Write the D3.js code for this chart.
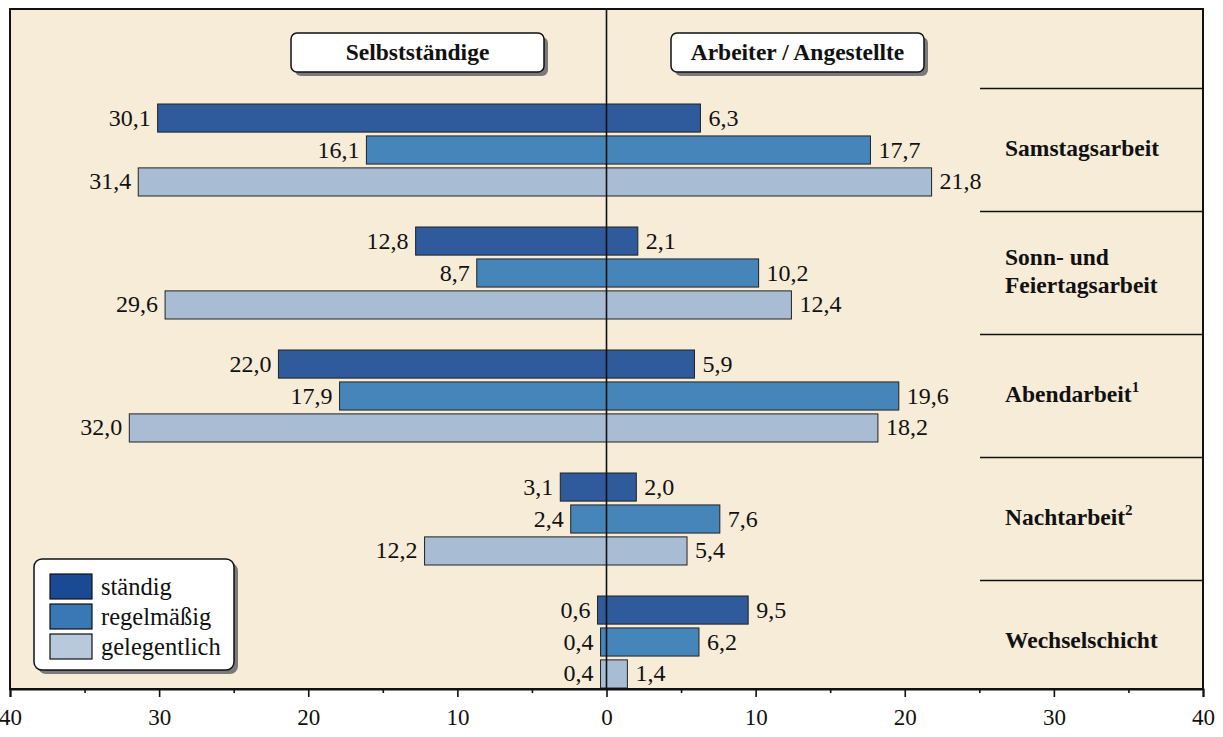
<!DOCTYPE html>
<html><head><meta charset="utf-8">
<script src="https://cdn.jsdelivr.net/npm/d3@7"></script>
<style>body{margin:0;background:#fff}svg{display:block}</style>
</head><body><svg id="c" width="1223" height="737"></svg>
<script>
const categories = ["Samstagsarbeit", "Sonn- und Feiertagsarbeit", "Abendarbeit", "Nachtarbeit", "Wechselschicht"];
const catLines = [["Samstagsarbeit"], ["Sonn- und", "Feiertagsarbeit"], ["Abendarbeit"], ["Nachtarbeit"], ["Wechselschicht"]];
const catSup = ["", "", "1", "2", ""];
const seriesNames = ["ständig", "regelmäßig", "gelegentlich"];
const selbst = [[30.1, 16.1, 31.4], [12.8, 8.7, 29.6], [22.0, 17.9, 32.0], [3.1, 2.4, 12.2], [0.6, 0.4, 0.4]];
const arbeiter = [[6.3, 17.7, 21.8], [2.1, 10.2, 12.4], [5.9, 19.6, 18.2], [2.0, 7.6, 5.4], [9.5, 6.2, 1.4]];
const majorTicks = [-40, -30, -20, -10, 0, 10, 20, 30, 40];
const minorTicks = [-35, -25, -15, -5, 5, 15, 25, 35];
const barColors = ["#2f5a9c", "#4585ba", "#a8bdd4"];
const legendColors = ["#1b4a94", "#3a78b5", "#b9c9dc"];

const FONT = "'Liberation Serif', 'Times New Roman', Times, serif";
const svg = d3.select("#c");
const L = 10, R = 1203, T = 9, B = 689;
const x = d3.scaleLinear().domain([-40, 40]).range([L, R]);
const y = d3.scaleBand().domain(categories).range([88, 703]).paddingInner(0).paddingOuter(0);
const yi = d3.scaleBand().domain([0, 1, 2]).range([-46, 46]).paddingInner(0.12);
const fmt = v => d3.format(".1f")(v).replace(".", ",");
function txt(sel) { return sel.append("text").attr("font-family", FONT).attr("fill", "#111"); }

// background
svg.append("rect").attr("x", L).attr("y", T).attr("width", R - L).attr("height", B - T).attr("fill", "#f7ecd8");

// separator lines on right
categories.forEach(c => svg.append("line").attr("x1", 980).attr("x2", R).attr("y1", y(c) + 0.5).attr("y2", y(c) + 0.5).attr("stroke", "#111").attr("stroke-width", 1.6));

// bars
const g = svg.append("g");
categories.forEach((c, ci) => {
  const cy = y(c) + y.bandwidth() / 2 + 0.5;
  [0, 1, 2].forEach(si => {
    const by = cy + yi(si);
    const h = yi.bandwidth();
    const vl = selbst[ci][si], vr = arbeiter[ci][si];
    g.append("rect").attr("x", x(-vl)).attr("y", by).attr("width", x(0) - x(-vl)).attr("height", h)
      .attr("fill", barColors[si]).attr("stroke", "#222").attr("stroke-width", 1);
    g.append("rect").attr("x", x(0)).attr("y", by).attr("width", x(vr) - x(0)).attr("height", h)
      .attr("fill", barColors[si]).attr("stroke", "#222").attr("stroke-width", 1);
    txt(g).attr("x", x(-vl) - 7).attr("y", by + h / 2 + 7.5).attr("text-anchor", "end")
      .attr("font-size", 24).text(fmt(vl));
    txt(g).attr("x", x(vr) + 8).attr("y", by + h / 2 + 7.5).attr("text-anchor", "start")
      .attr("font-size", 24).text(fmt(vr));
  });
  // category labels
  const lines = catLines[ci];
  const t = txt(svg).attr("x", 1005).attr("font-size", 23.5).attr("font-weight", "bold");
  lines.forEach((ln, li) => {
    t.append("tspan").attr("x", 1005).attr("y", cy + 6 + (li - (lines.length - 1) / 2) * 28).text(ln);
  });
  if (catSup[ci]) t.append("tspan").attr("font-size", 15).attr("dy", -10).text(catSup[ci]);
});

// zero line
svg.append("line").attr("x1", x(0)).attr("x2", x(0)).attr("y1", T).attr("y2", B).attr("stroke", "#111").attr("stroke-width", 1.6);

// frame
svg.append("rect").attr("x", L).attr("y", T).attr("width", R - L).attr("height", B - T).attr("fill", "none").attr("stroke", "#111").attr("stroke-width", 2);

// axis
const ax = svg.append("g").attr("transform", `translate(0,${B})`);
ax.call(d3.axisBottom(x).tickValues(majorTicks).tickSize(8).tickPadding(12).tickFormat(d => Math.abs(d)));
ax.attr("font-family", FONT).attr("font-size", 23);
ax.select(".domain").attr("stroke", "#111").attr("stroke-width", 2);
ax.selectAll(".tick line").attr("stroke", "#111").attr("stroke-width", 1.6);
ax.selectAll(".tick text").attr("fill", "#111");
const ax2 = svg.append("g").attr("transform", `translate(0,${B})`);
ax2.call(d3.axisBottom(x).tickValues(minorTicks).tickSize(4).tickFormat(""));
ax2.select(".domain").remove();
ax2.selectAll(".tick line").attr("stroke", "#111").attr("stroke-width", 1.6);

// header boxes
function box(x0, y0, w, h, r) {
  svg.append("rect").attr("x", x0 + 4).attr("y", y0 + 4).attr("width", w).attr("height", h).attr("rx", r).attr("fill", "#7a7a7a");
  svg.append("rect").attr("x", x0).attr("y", y0).attr("width", w).attr("height", h).attr("rx", r).attr("fill", "#fff").attr("stroke", "#111").attr("stroke-width", 1.5);
}
box(291, 33, 253, 39, 6);
txt(svg).attr("x", 417.5).attr("y", 60).attr("text-anchor", "middle").attr("font-size", 23.5).attr("font-weight", "bold").text("Selbstständige");
box(671, 33, 253, 39, 6);
txt(svg).attr("x", 797.5).attr("y", 60).attr("text-anchor", "middle").attr("font-size", 23.5).attr("font-weight", "bold").text("Arbeiter / Angestellte");

// legend
box(34, 559, 200, 111, 8);
seriesNames.forEach((s, i) => {
  svg.append("rect").attr("x", 50).attr("y", 574 + i * 30).attr("width", 42).attr("height", 25).attr("fill", legendColors[i]).attr("stroke", "#111").attr("stroke-width", 1.2);
  txt(svg).attr("x", 101).attr("y", 595 + i * 30).attr("font-size", 24.5).text(s);
});
</script></body></html>
